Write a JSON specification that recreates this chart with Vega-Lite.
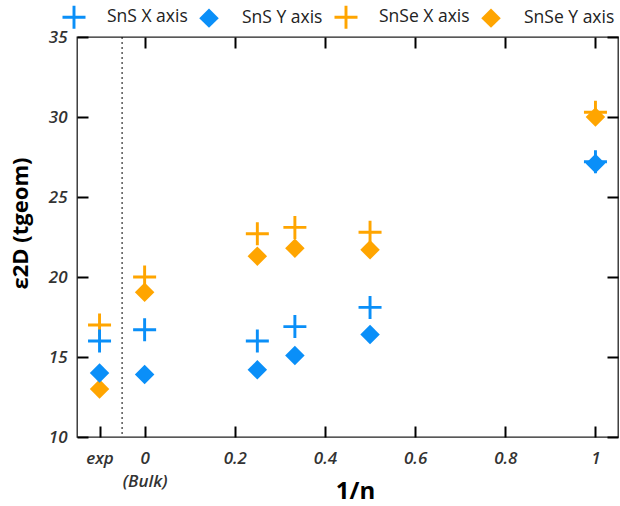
{
  "$schema": "https://vega.github.io/schema/vega-lite/v6.json",
  "width": 541,
  "height": 400,
  "autosize": "none",
  "padding": {"left": 77, "top": 37, "right": 2, "bottom": 69},
  "config": {
    "font": "Open Sans",
    "view": {"stroke": "#222", "strokeWidth": 1.3},
    "axis": {
      "grid": false,
      "domain": false,
      "labelFont": "Open Sans",
      "labelFontSize": 17,
      "labelFontStyle": "italic",
      "labelFontWeight": 600,
      "labelColor": "#333",
      "titleFont": "Open Sans",
      "titleFontWeight": "bold",
      "titleColor": "#000"
    }
  },
  "datasets": {
    "pts": [
      {"series": "SnSe X axis", "n": -0.1, "eps": 17.0},
      {"series": "SnSe X axis", "n": 0, "eps": 20.0},
      {"series": "SnSe X axis", "n": 0.25, "eps": 22.7},
      {"series": "SnSe X axis", "n": 0.3333, "eps": 23.1},
      {"series": "SnSe X axis", "n": 0.5, "eps": 22.8},
      {"series": "SnSe X axis", "n": 1, "eps": 30.3},
      {"series": "SnSe Y axis", "n": -0.1, "eps": 13.0},
      {"series": "SnSe Y axis", "n": 0, "eps": 19.05},
      {"series": "SnSe Y axis", "n": 0.25, "eps": 21.3},
      {"series": "SnSe Y axis", "n": 0.3333, "eps": 21.8},
      {"series": "SnSe Y axis", "n": 0.5, "eps": 21.7},
      {"series": "SnSe Y axis", "n": 1, "eps": 30.0},
      {"series": "SnS X axis", "n": -0.1, "eps": 16.0},
      {"series": "SnS X axis", "n": 0, "eps": 16.7},
      {"series": "SnS X axis", "n": 0.25, "eps": 16.0},
      {"series": "SnS X axis", "n": 0.3333, "eps": 16.9},
      {"series": "SnS X axis", "n": 0.5, "eps": 18.1},
      {"series": "SnS X axis", "n": 1, "eps": 27.2},
      {"series": "SnS Y axis", "n": -0.1, "eps": 14.0},
      {"series": "SnS Y axis", "n": 0, "eps": 13.9},
      {"series": "SnS Y axis", "n": 0.25, "eps": 14.2},
      {"series": "SnS Y axis", "n": 0.3333, "eps": 15.1},
      {"series": "SnS Y axis", "n": 0.5, "eps": 16.4},
      {"series": "SnS Y axis", "n": 1, "eps": 27.1}
    ]
  },
  "data": {"name": "pts"},
  "resolve": {"axis": {"x": "independent", "y": "independent"}},
  "layer": [
    {
      "data": {"values": [{}]},
      "mark": {"type": "rule", "strokeDash": [2, 3], "color": "#000", "strokeWidth": 1},
      "encoding": {
        "x": {"datum": -0.05, "type": "quantitative", "scale": {"domain": [-0.15, 1.05], "nice": false, "zero": false}, "axis": null}
      }
    },
    {
      "mark": {"type": "point", "opacity": 0},
      "encoding": {
        "x": {"field": "n", "type": "quantitative", "scale": {"domain": [-0.15, 1.05], "nice": false, "zero": false},
              "axis": {"orient": "top", "values": [0, 0.2, 0.4, 0.6, 0.8, 1], "labels": false, "title": null,
                       "tickSize": 11, "offset": -11, "tickColor": "black", "tickWidth": 2}},
        "y": {"field": "eps", "type": "quantitative", "scale": {"domain": [10, 35], "nice": false, "zero": false},
              "axis": {"orient": "right", "values": [10, 15, 20, 25, 30, 35], "labels": false, "title": null,
                       "tickSize": 11, "offset": -11, "tickColor": "black", "tickWidth": 2}}
      }
    },
    {
      "mark": {"type": "point", "filled": true, "opacity": 1, "size": 380},
      "encoding": {
        "x": {"field": "n", "type": "quantitative", "scale": {"domain": [-0.15, 1.05], "nice": false, "zero": false},
              "axis": {"orient": "bottom", "values": [-0.1, 0, 0.2, 0.4, 0.6, 0.8, 1], "format": "~g",
                       "tickSize": 11, "offset": -11, "tickColor": "black", "tickWidth": 2,
                       "labelExpr": "datum.value < -0.05 ? 'exp' : (datum.value == 0 ? ['0', '(Bulk)'] : datum.label)",
                       "labelPadding": 13, "labelLineHeight": 23,
                       "title": "1/n", "titleFontSize": 24, "titleX": 278, "titleY": 72,
                       "titleBaseline": "alphabetic", "titleAlign": "center"}},
        "y": {"field": "eps", "type": "quantitative", "scale": {"domain": [10, 35], "nice": false, "zero": false},
              "axis": {"orient": "left", "values": [10, 15, 20, 25, 30, 35], "labelPadding": 10,
                       "tickSize": 11, "offset": -11, "tickColor": "black", "tickWidth": 2,
                       "title": "ε2D (tgeom)", "titleFontSize": 22, "titleX": -68, "titleY": 186,
                       "titleAngle": -90, "titleBaseline": "middle", "titleAlign": "center"}},
        "color": {"field": "series", "type": "nominal",
                  "scale": {"domain": ["SnS X axis", "SnS Y axis", "SnSe X axis", "SnSe Y axis"],
                            "range": ["#0a8ff8", "#0a8ff8", "#ffa500", "#ffa500"]},
                  "legend": {"orient": "none", "legendX": -13, "legendY": -30, "direction": "horizontal", "title": null,
                             "labelFont": "Open Sans", "labelFontSize": 17.5, "labelColor": "#222",
                             "symbolSize": 380, "labelOffset": 23, "columnPadding": 11, "padding": 0, "symbolStrokeWidth": 0}},
        "shape": {"field": "series", "type": "nominal",
                  "scale": {"domain": ["SnS X axis", "SnS Y axis", "SnSe X axis", "SnSe Y axis"],
                            "range": ["M-1.18,-0.15H-0.15V-1.18H0.15V-0.15H1.18V0.15H0.15V1.18H-0.15V0.15H-1.18Z", "diamond",
                                      "M-1.18,-0.15H-0.15V-1.18H0.15V-0.15H1.18V0.15H0.15V1.18H-0.15V0.15H-1.18Z", "diamond"]},
                  "legend": {"orient": "none", "legendX": -13, "legendY": -30, "direction": "horizontal", "title": null,
                             "labelFont": "Open Sans", "labelFontSize": 17.5, "labelColor": "#222",
                             "symbolSize": 380, "labelOffset": 23, "columnPadding": 11, "padding": 0, "symbolStrokeWidth": 0}}
      }
    }
  ]
}
